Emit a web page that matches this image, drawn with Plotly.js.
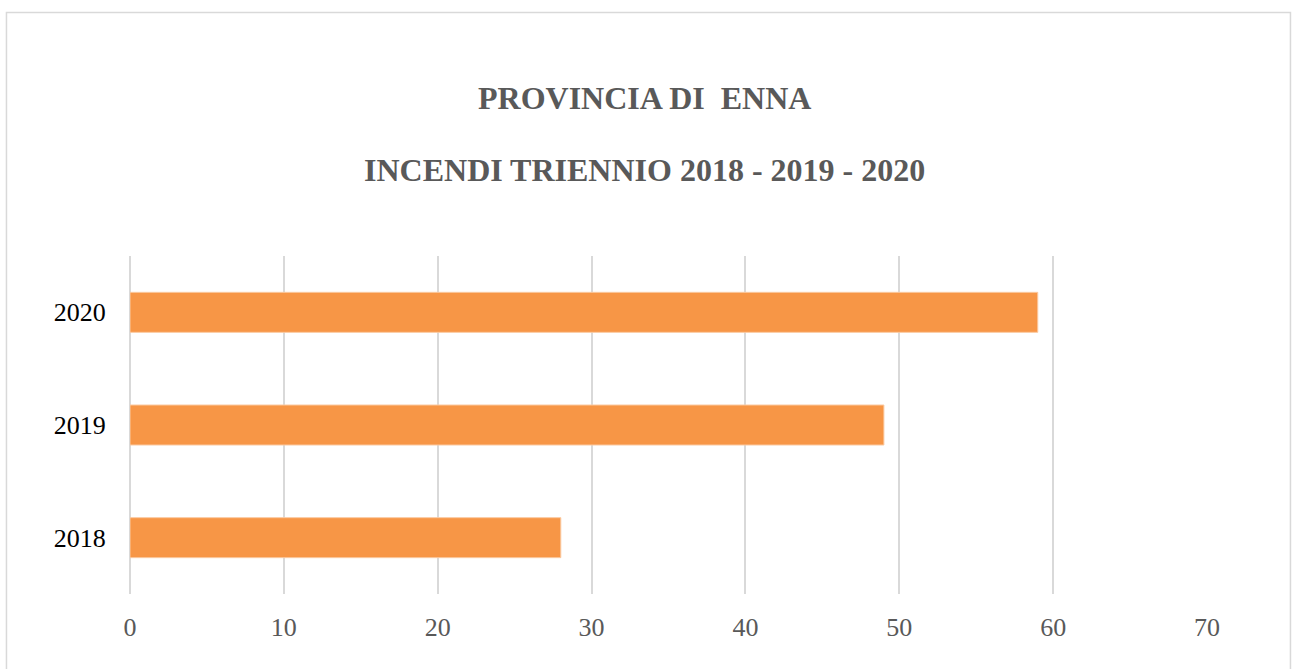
<!DOCTYPE html>
<html>
<head>
<meta charset="utf-8">
<script src="https://cdn.plot.ly/plotly-3.0.1.min.js"></script>
<style>html,body{margin:0;padding:0;background:#fff;}#chart{width:1292px;height:669px;}</style>
</head>
<body>
<div id="chart"></div>
<script>
const years = ['2018', '2019', '2020'];
const incendi = [28, 49, 59];
const xTicks = [0, 10, 20, 30, 40, 50, 60, 70];
const titleLines = ['PROVINCIA DI&nbsp; ENNA', 'INCENDI TRIENNIO 2018 - 2019 - 2020'];

const trace = {
  type: 'bar',
  orientation: 'h',
  y: years,
  x: incendi,
  marker: {color: '#F79646', line: {color: '#FBC9A0', width: 1}},
  hoverinfo: 'x+y'
};

const titleFont = {family: 'Liberation Serif, Times New Roman, serif', size: 32, color: '#595959', weight: 'bold'};

const layout = {
  width: 1292, height: 669,
  margin: {l: 130, r: 85, t: 256, b: 75},
  paper_bgcolor: '#ffffff', plot_bgcolor: '#ffffff',
  showlegend: false,
  bargap: 0.645,
  xaxis: {
    range: [0, 70], tickvals: xTicks, ticktext: xTicks.map(String),
    showgrid: true, gridcolor: '#D9D9D9', gridwidth: 2,
    zeroline: true, zerolinecolor: '#D9D9D9', zerolinewidth: 2,
    showline: false,
    ticks: 'outside', ticklen: 10, tickcolor: 'rgba(0,0,0,0)',
    tickfont: {family: 'Liberation Serif, Times New Roman, serif', size: 26, color: '#595959'},
    fixedrange: true
  },
  yaxis: {
    type: 'category', categoryorder: 'array', categoryarray: years,
    showgrid: false, zeroline: false, showline: false,
    ticks: 'outside', ticklen: 18, tickcolor: 'rgba(0,0,0,0)',
    tickfont: {family: 'Liberation Serif, Times New Roman, serif', size: 26, color: '#000000'},
    fixedrange: true
  },
  annotations: [
    {text: titleLines[0], xref: 'paper', yref: 'paper', x: 0.478, y: 1.4675,
     xanchor: 'center', yanchor: 'middle', showarrow: false, font: titleFont},
    {text: titleLines[1], xref: 'paper', yref: 'paper', x: 0.478, y: 1.2544,
     xanchor: 'center', yanchor: 'middle', showarrow: false, font: titleFont}
  ],
  shapes: [{
    type: 'rect', xref: 'paper', yref: 'paper',
    x0: -0.1147, x1: 1.0775, y0: -0.26, y1: 1.7204,
    line: {color: '#D9D9D9', width: 1.5}, fillcolor: 'rgba(0,0,0,0)', layer: 'below'
  }]
};

Plotly.newPlot('chart', [trace], layout, {displayModeBar: false, staticPlot: true});
</script>
</body>
</html>
